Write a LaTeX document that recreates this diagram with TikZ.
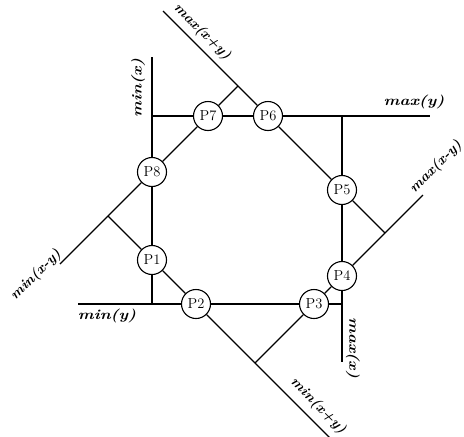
\documentclass[tikz,border=0pt]{standalone}
\usepackage{graphicx}
\newcommand\widetxt[1]{\scalebox{1.2}[1]{#1}}
\newcommand\diagtxt[1]{\scalebox{1.05}[1]{#1}}
\begin{document}
\begin{tikzpicture}[x=1pt,y=-1pt,
  pnode/.style={circle,draw,line width=1.1pt,minimum size=29pt,inner sep=0pt,font=\fontsize{14.5}{14.5}\selectfont},
  ln/.style={line width=1.1pt},
  lbl/.style={inner sep=0pt,font=\fontsize{14}{14}\selectfont\bfseries\itshape}]
\useasboundingbox (0,0) rectangle (464,437);
% rectangle corners
\coordinate (TL) at (152,116);
\coordinate (TR) at (342,116);
\coordinate (BR) at (342,304);
\coordinate (BL) at (152,304);
% diamond corners
\coordinate (Dt) at (238,86);
\coordinate (Dr) at (385,233);
\coordinate (Db) at (255,363);
\coordinate (Dl) at (108,216);
% free line ends
\coordinate (minxE) at (152,57);
\coordinate (maxyE) at (430,116);
\coordinate (maxxE) at (342,362);
\coordinate (minyE) at (78,304);
\coordinate (apE) at (163,11);
\coordinate (amE) at (423,195);
\coordinate (bpE) at (330,438);
\coordinate (bmE) at (60,264);
% octagon points
\node[pnode] (P7) at (208,116) {P7};
\node[pnode] (P6) at (268,116) {P6};
\node[pnode] (P5) at (342,190) {P5};
\node[pnode] (P4) at (342,276) {P4};
\node[pnode] (P3) at (314,304) {P3};
\node[pnode] (P2) at (196,304) {P2};
\node[pnode] (P1) at (152,260) {P1};
\node[pnode] (P8) at (152,172) {P8};
% min(x)
\draw[ln] (minxE) -- (P8);
\draw[ln] (P8) -- (P1);
\draw[ln] (P1) -- (BL);
% max(y)
\draw[ln] (TL) -- (P7);
\draw[ln] (P7) -- (P6);
\draw[ln] (P6) -- (maxyE);
% max(x)
\draw[ln] (TR) -- (P5);
\draw[ln] (P5) -- (P4);
\draw[ln] (P4) -- (maxxE);
% min(y)
\draw[ln] (minyE) -- (P2);
\draw[ln] (P2) -- (P3);
\draw[ln] (P3) -- (BR);
% max(x+y)
\draw[ln] (apE) -- (P6);
\draw[ln] (P6) -- (P5);
\draw[ln] (P5) -- (Dr);
% max(x-y)
\draw[ln] (amE) -- (P4);
\draw[ln] (P4) -- (P3);
\draw[ln] (P3) -- (Db);
% min(x+y)
\draw[ln] (bpE) -- (P2);
\draw[ln] (P2) -- (P1);
\draw[ln] (P1) -- (Dl);
% min(x-y)
\draw[ln] (bmE) -- (P8);
\draw[ln] (P8) -- (P7);
\draw[ln] (P7) -- (Dt);
% labels
\node[lbl,rotate=90] (lminx) at (138,88) {\widetxt{min(x)}};
\node[lbl] (lmaxy) at (414,102) {\widetxt{max(y)}};
\node[lbl,rotate=-45] (lapy) at (202,32) {\diagtxt{max(x+y)}};
\node[lbl,rotate=45] (lamy) at (436,167) {\diagtxt{max(x-y)}};
\node[lbl,rotate=45] (lbmy) at (36,275) {\diagtxt{min(x-y)}};
\node[lbl] (lminy) at (107,316) {\widetxt{min(y)}};
\node[lbl,rotate=-90] (lmaxx) at (353,348) {\widetxt{max(x)}};
\node[lbl,rotate=-45] (lbpy) at (318,406) {\diagtxt{min(x+y)}};
\end{tikzpicture}
\end{document}
